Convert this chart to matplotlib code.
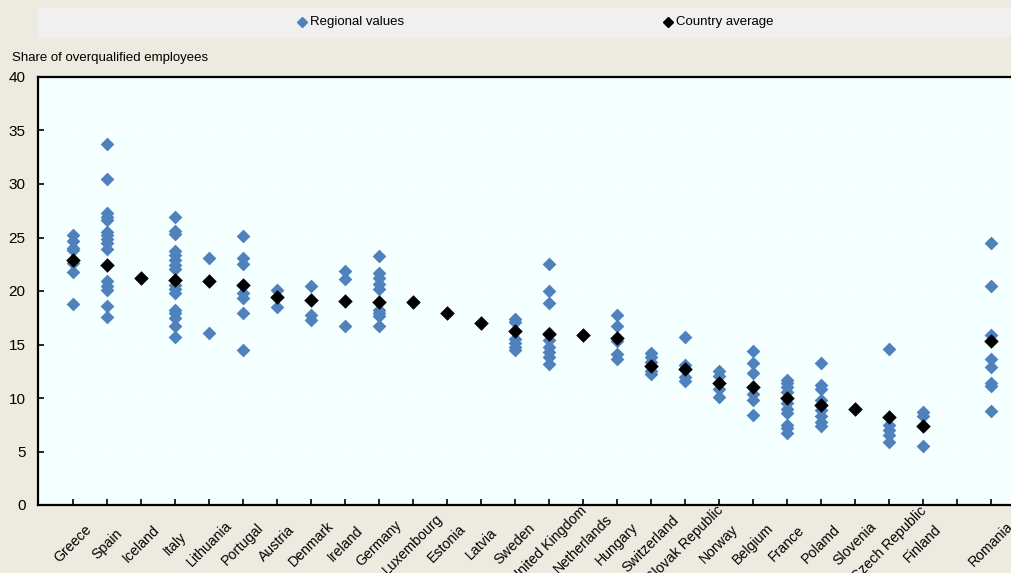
import matplotlib
matplotlib.use("Agg")
import matplotlib.pyplot as plt
from matplotlib.lines import Line2D
from matplotlib.patches import Rectangle
import numpy as np

plt.rcParams['font.family'] = ['Liberation Sans', 'DejaVu Sans']

countries = ["Greece", "Spain", "Iceland", "Italy", "Lithuania", "Portugal", "Austria",
             "Denmark", "Ireland", "Germany", "Luxembourg", "Estonia", "Latvia", "Sweden",
             "United Kingdom", "Netherlands", "Hungary", "Switzerland", "Slovak Republic",
             "Norway", "Belgium", "France", "Polamd", "Slovenia", "Czech Republic",
             "Finland", "", "Romania"]

regional_values = [
    [25.2, 24.7, 24.0, 23.8, 22.6, 21.8, 18.8],                              # Greece
    [33.7, 30.5, 27.3, 26.9, 26.6, 25.5, 25.2, 24.9, 24.5, 23.9,
     20.9, 20.5, 20.1, 18.6, 17.6],                                          # Spain
    [21.2],                                                                  # Iceland
    [26.9, 25.6, 25.3, 23.7, 23.4, 22.9, 22.4, 22.1, 20.6, 20.2,
     19.8, 18.2, 17.9, 17.5, 16.7, 15.7],                                    # Italy
    [23.1, 16.1],                                                            # Lithuania
    [25.1, 23.1, 22.5, 19.8, 19.3, 17.9, 14.5],                              # Portugal
    [20.1, 18.5],                                                            # Austria
    [20.5, 17.8, 17.3],                                                      # Denmark
    [21.9, 21.1, 16.7],                                                      # Ireland
    [23.3, 21.7, 21.2, 20.7, 20.2, 18.2, 17.9, 17.7, 16.7],                  # Germany
    [19.0],                                                                  # Luxembourg
    [17.9],                                                                  # Estonia
    [17.0],                                                                  # Latvia
    [17.4, 17.1, 15.5, 15.1, 14.8, 14.5],                                    # Sweden
    [22.5, 20.0, 18.9, 16.1, 15.4, 14.8, 14.3, 13.8, 13.2],                  # United Kingdom
    [15.9],                                                                  # Netherlands
    [17.8, 16.7, 15.3, 14.1, 13.6],                                          # Hungary
    [14.2, 13.8, 13.4, 12.5, 12.2],                                          # Switzerland
    [15.7, 13.1, 12.0, 11.6],                                                # Slovak Republic
    [12.5, 12.1, 10.8, 10.1],                                                # Norway
    [14.4, 13.3, 12.3, 10.4, 9.8, 8.4],                                      # Belgium
    [11.7, 11.4, 11.0, 10.6, 9.5, 9.0, 8.6, 7.5, 7.2, 6.7],                  # France
    [13.3, 11.2, 10.8, 9.8, 8.9, 8.3, 7.8, 7.4],                             # Polamd
    [9.0],                                                                   # Slovenia
    [14.6, 7.5, 7.0, 6.5, 5.9],                                              # Czech Republic
    [8.7, 8.3, 5.5],                                                         # Finland
    [],                                                                      # (spacer)
    [24.5, 20.5, 15.9, 13.6, 12.9, 11.4, 11.1, 8.8],                         # Romania
]

country_average = [22.9, 22.4, 21.2, 21.0, 20.9, 20.6, 19.4, 19.2, 19.1, 19.0,
                   19.0, 17.9, 17.0, 16.3, 16.0, 15.9, 15.6, 13.0, 12.7, 11.4,
                   11.0, 10.0, 9.3, 9.0, 8.2, 7.4, np.nan, 15.3]

y_ticks = [0, 5, 10, 15, 20, 25, 30, 35, 40]

fig_bg = "#EDEAE0"
plot_bg = "#F4FFFF"
blue = "#4F81BD"

W, H = 1011, 573
fig = plt.figure(figsize=(W / 100, H / 100), dpi=100, facecolor=fig_bg)
ax = fig.add_axes([38 / W, 1 - 505 / H, 1 - 38 / W, (505 - 77) / H])
ax.set_facecolor(plot_bg)

positions = np.arange(len(countries))
rx = [p for p, vals in zip(positions, regional_values) for _ in vals]
ry = [v for vals in regional_values for v in vals]

ax.scatter(rx, ry, marker="D", s=7.0 ** 2, color=blue, linewidths=0, zorder=3)
ax.scatter(positions, country_average, marker="D", s=7.4 ** 2, color="black",
           linewidths=0, zorder=4)

ax.set_xlim(-1.03, len(countries) - 0.41)
ax.set_ylim(0, 40)
ax.set_yticks(y_ticks)
ax.set_xticks(positions)
ax.set_xticklabels(countries, rotation=45, ha="center", va="center",
                   rotation_mode="anchor", fontsize=10.2)
ax.tick_params(axis="x", direction="in", length=4, width=1.2, pad=28, color="black")
ax.tick_params(axis="y", direction="in", length=4, width=1.2, pad=9, labelsize=11,
               color="black")

ax.grid(True, color="white", linewidth=1.0, zorder=1)
ax.set_axisbelow(True)

for side in ("left", "bottom", "top"):
    ax.spines[side].set_color("black")
    ax.spines[side].set_linewidth(1.6)
ax.spines["right"].set_visible(False)

# Axis caption above the plot
fig.text(12 / W, 1 - 58 / H, "Share of overqualified employees", fontsize=9.5,
         ha="left", va="center")

# Legend strip
fig.add_artist(Rectangle((38 / W, 1 - 38 / H), 1 - 38 / W, 30 / H,
                         transform=fig.transFigure, facecolor="#F0F0F0",
                         edgecolor="none"))
ly = 1 - 21.5 / H
fig.add_artist(Line2D([302 / W], [ly], marker="D", markersize=4.6, color=blue,
                      linestyle="none", transform=fig.transFigure))
fig.text(310 / W, ly, "Regional values", fontsize=9.5, ha="left", va="center")
fig.add_artist(Line2D([668 / W], [ly], marker="D", markersize=4.6, color="black",
                      linestyle="none", transform=fig.transFigure))
fig.text(676 / W, ly, "Country average", fontsize=9.5, ha="left", va="center")

fig.savefig("out.png", dpi=100, facecolor=fig_bg)
